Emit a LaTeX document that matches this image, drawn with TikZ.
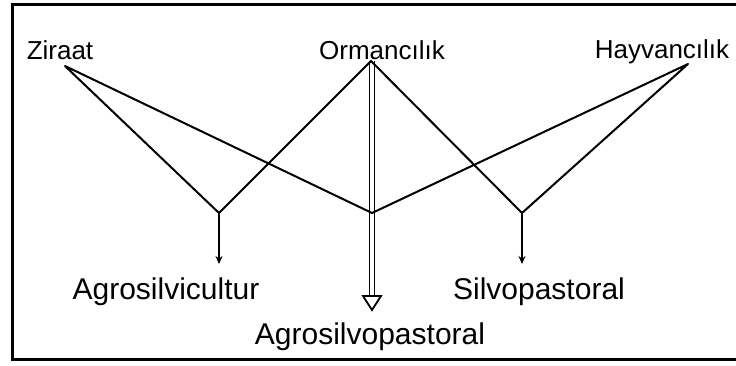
\documentclass[tikz,border=0pt]{standalone}
\usepackage{fontspec}
\setmainfont{Liberation Sans}
\usetikzlibrary{arrows.meta}
\begin{document}
\begin{tikzpicture}[x=1pt,y=-1pt,
  lbl/.style={inner sep=0pt,font=\fontsize{26}{28}\selectfont},
  blbl/.style={inner sep=0pt,font=\fontsize{30}{32}\selectfont},
  conn/.style={line width=2pt,line cap=round,line join=round},
  smallarrow/.style={line width=2pt,-{Stealth[length=8pt,width=7pt]}},
  frame/.style={line width=3pt}]
\useasboundingbox (0,0) rectangle (736,366);
% frame
\draw[frame] (736,5) -- (12,5) -- (12,359) -- (736,359);
% labels
\node[lbl] (zir) at (60,50) {Ziraat};
\node[lbl] (orm) at (382,50) {Ormancılık};
\node[lbl] (hay) at (662,52) {Hayvancılık};
\node[blbl] (agsc) at (166,292) {Agrosilvicultur};
\node[blbl] (silv) at (539,292) {Silvopastoral};
\node[blbl] (agsp) at (370,337) {Agrosilvopastoral};
% apices and junctions
\coordinate (za) at (65,66);
\coordinate (oa) at (371,61);
\coordinate (ha) at (688,64);
\coordinate (j1) at (219,213);
\coordinate (j2) at (372,213);
\coordinate (j3) at (522,213);
\coordinate (e1) at (219,264);
\coordinate (e3) at (522,264);
% connectors
\draw[conn] (za) -- (j1) -- (oa) -- (j3) -- (ha) -- (j2) -- (za);
\draw[smallarrow] (j1) -- (e1);
\draw[smallarrow] (j3) -- (e3);
% double arrow Ormancilik -> Agrosilvopastoral
\coordinate (dtop) at (372,61);
\coordinate (dhead) at (372,296);
\coordinate (dtip) at (372,310);
\draw[line width=1.5pt] ([xshift=-2.3pt]dtop) -- ([xshift=-2.3pt]dhead);
\draw[line width=1.5pt] ([xshift=2.3pt]dtop) -- ([xshift=2.3pt]dhead);
\draw[line width=1.8pt,line join=miter] ([xshift=-9pt]dhead) -- ([xshift=9pt]dhead) -- (dtip) -- cycle;
\end{tikzpicture}
\end{document}
